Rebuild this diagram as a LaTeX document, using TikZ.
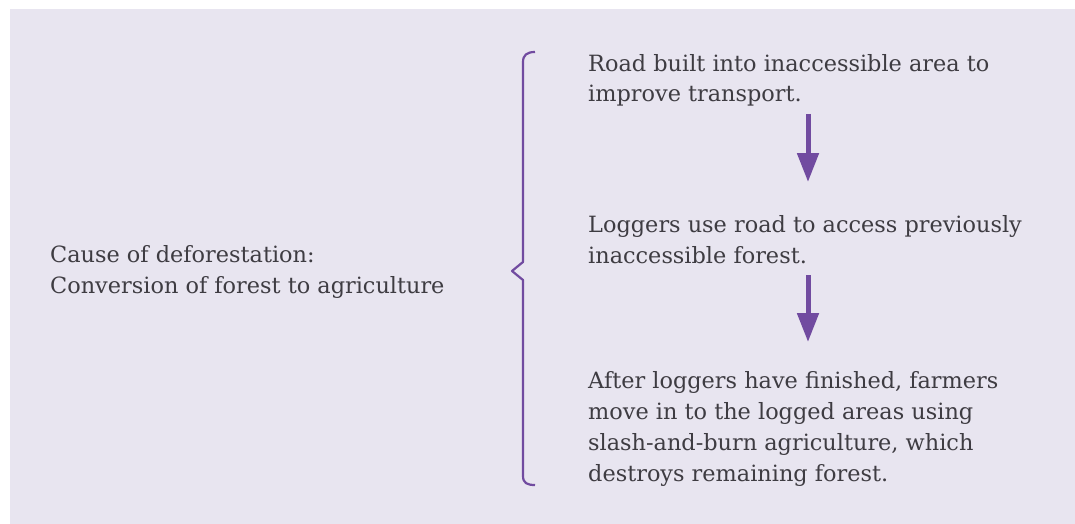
\documentclass[tikz,border=0pt]{standalone}
\usepackage{fontspec}
\setmainfont{DejaVu Serif}
\usepackage{xcolor}
\usepackage{tikz}
\usetikzlibrary{arrows.meta}
\definecolor{lavender}{RGB}{232,229,240}
\definecolor{brandpurple}{RGB}{113,75,160}
\definecolor{textgrey}{RGB}{62,60,66}

\tikzset{
  steptext/.style={anchor=base west, align=left, inner sep=0pt, text=textgrey,
    font=\fontsize{22.4}{30.8}\selectfont},
  downarrow/.style={draw=brandpurple, line width=5pt,
    -{Triangle[length=29pt,width=21pt]}},
}

\begin{document}
\begin{tikzpicture}[x=1pt, y=-1pt]

% Page area and background panel
\useasboundingbox (0,0) rectangle (1075,524);
\fill[lavender] (10,9) rectangle (1075,524);

% Cause on the left (nodes sit on the baseline of their last line)
\node[steptext] (cause) at (50,293) {Cause of deforestation:\\Conversion of forest to agriculture};

% Brace joining the cause to the chain of events
\draw[brandpurple, line width=2.2pt, line join=round]
  (535,52) .. controls (527,52) and (523,55) .. (523,62)
  -- (523,262) -- (512,271) -- (523,280)
  -- (523,476) .. controls (523,483) and (527,485) .. (535,485);

% Chain of events
\node[steptext] (road) at (588,102) {Road built into inaccessible area to\\improve transport.};
\node[steptext] (loggers) at (588,263) {Loggers use road to access previously\\inaccessible forest.};
\node[steptext] (farmers) at (588,481) {After loggers have finished, farmers\\move in to the logged areas using\\slash-and-burn agriculture, which\\destroys remaining forest.};

% Arrows between the steps
\coordinate (a1top) at (808,114);
\coordinate (a1tip) at (808,182);
\coordinate (a2top) at (808,275);
\coordinate (a2tip) at (808,342);
\draw[downarrow] (a1top) -- (a1tip);
\draw[downarrow] (a2top) -- (a2tip);

\end{tikzpicture}
\end{document}
